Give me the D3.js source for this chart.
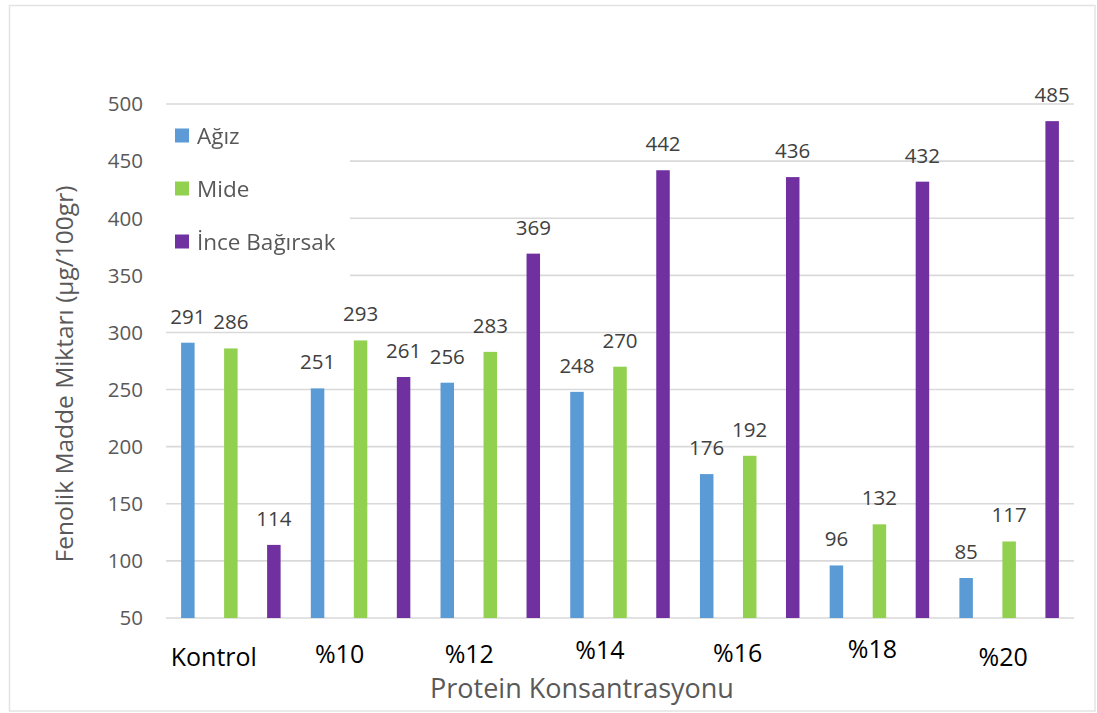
<!DOCTYPE html>
<html>
<head>
<meta charset="utf-8">
<script src="https://cdn.jsdelivr.net/npm/d3@7"></script>
<style>
  html, body { margin: 0; padding: 0; background: #fff; }
  svg { display: block; font-family: "Open Sans", sans-serif; }
</style>
</head>
<body>
<svg id="chart" width="1097" height="713"></svg>
<script>
// Phenolic content per protein concentration, three digestion stages
const categories = ["Kontrol", "%10", "%12", "%14", "%16", "%18", "%20"];
const seriesNames = ["Ağız", "Mide", "İnce Bağırsak"];
const agiz = [291, 251, 256, 248, 176, 96, 85];
const mide = [286, 293, 283, 270, 192, 132, 117];
const inceBagirsak = [114, 261, 369, 442, 436, 432, 485];
const yTicks = [50, 100, 150, 200, 250, 300, 350, 400, 450, 500];

const seriesValues = [agiz, mide, inceBagirsak];
const colors = ["#5B9BD5", "#92D050", "#7030A0"];

// Category labels sit as free text boxes, nudged off the group centres
const catLabelDx = [-17, -21, -21, -20, -12, -7, -6];
const catLabelY = [666, 663, 663, 659, 662, 658, 666];

const svg = d3.select("#chart");
const plot = { left: 166, right: 1074, top: 104, bottom: 618 };

// Outer frame
svg.append("rect")
  .attr("x", 9.5).attr("y", 5.5)
  .attr("width", 1085.5).attr("height", 705.5)
  .attr("fill", "#fff")
  .attr("stroke", "#e3e3e3").attr("stroke-width", 1.5);

const x0 = d3.scaleBand().domain(categories).range([plot.left, plot.right]).padding(0);
const x1 = d3.scaleBand().domain(seriesNames).range([0, x0.bandwidth()])
  .paddingInner(0.686).paddingOuter(0.351);
const y = d3.scaleLinear().domain([50, 500]).range([plot.bottom, plot.top]);

// Horizontal gridlines (the bottom one doubles as the category axis)
svg.append("g").selectAll("line")
  .data(yTicks)
  .join("line")
  .attr("x1", plot.left).attr("x2", plot.right)
  .attr("y1", d => y(d)).attr("y2", d => y(d))
  .attr("stroke", "#d9d9d9").attr("stroke-width", 1.6);

// Y tick labels
svg.append("g").selectAll("text")
  .data(yTicks)
  .join("text")
  .attr("x", 143).attr("y", d => y(d))
  .attr("dy", "0.36em")
  .attr("text-anchor", "end")
  .attr("font-size", 20.5)
  .attr("fill", "#595959")
  .text(d => d);

// Legend (white box laid over the gridlines)
const legend = svg.append("g");
legend.append("rect")
  .attr("x", plot.left).attr("y", 110)
  .attr("width", 184).attr("height", 180)
  .attr("fill", "#fff");
const blur = svg.append("defs").append("filter").attr("id", "soft");
blur.append("feGaussianBlur").attr("stdDeviation", 0.55);
const legendItems = legend.append("g").attr("filter", "url(#soft)")
  .selectAll("g")
  .data(seriesNames)
  .join("g")
  .attr("transform", (d, i) => `translate(175, ${135.5 + i * 53})`);
legendItems.append("rect")
  .attr("x", 0).attr("y", -7)
  .attr("width", 14).attr("height", 14)
  .attr("fill", (d, i) => colors[i]);
legendItems.append("text")
  .attr("x", 22).attr("y", 0).attr("dy", "0.36em")
  .attr("font-size", 22.5)
  .attr("fill", "#595959")
  .text(d => d);

// Bars
const groups = svg.append("g").selectAll("g")
  .data(categories)
  .join("g")
  .attr("transform", d => `translate(${x0(d)},0)`);

groups.selectAll("rect")
  .data((c, ci) => seriesNames.map((s, si) => ({ s, si, v: seriesValues[si][ci] })))
  .join("rect")
  .attr("x", d => x1(d.s))
  .attr("width", x1.bandwidth())
  .attr("y", d => y(d.v))
  .attr("height", d => y(50) - y(d.v))
  .attr("fill", d => colors[d.si]);

// Value labels above bars
groups.selectAll("text")
  .data((c, ci) => seriesNames.map((s, si) => ({ s, si, v: seriesValues[si][ci] })))
  .join("text")
  .attr("x", d => x1(d.s) + x1.bandwidth() / 2)
  .attr("y", d => y(d.v) - 19)
  .attr("text-anchor", "middle")
  .attr("font-size", 20.5)
  .attr("fill", "#404040")
  .text(d => d.v);

// Category labels
svg.append("g").selectAll("text")
  .data(categories)
  .join("text")
  .attr("x", (d, i) => x0(d) + x0.bandwidth() / 2 + catLabelDx[i])
  .attr("y", (d, i) => catLabelY[i])
  .attr("text-anchor", "middle")
  .attr("font-size", 25)
  .attr("fill", "#000")
  .text(d => d);

// Axis titles
svg.append("text")
  .attr("x", 582).attr("y", 698)
  .attr("text-anchor", "middle")
  .attr("font-size", 27)
  .attr("fill", "#595959")
  .text("Protein Konsantrasyonu");

svg.append("text")
  .attr("transform", "translate(73, 374) rotate(-90)")
  .attr("text-anchor", "middle")
  .attr("font-size", 24.5)
  .attr("fill", "#595959")
  .text("Fenolik Madde Miktarı (µg/100gr)");
</script>
</body>
</html>
